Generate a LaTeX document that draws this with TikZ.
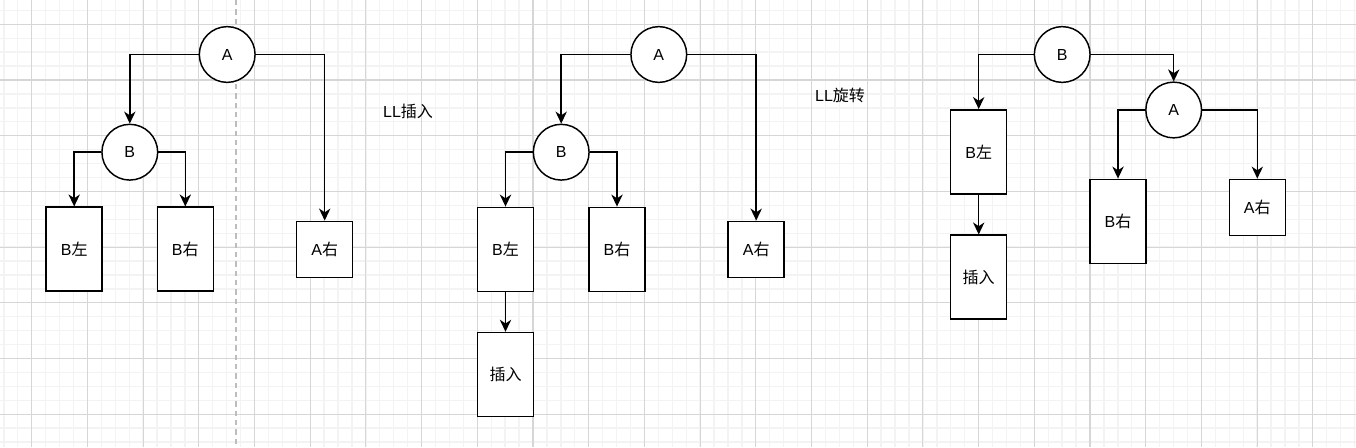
\documentclass[tikz,border=0pt]{standalone}
\usepackage{fontspec}
\setmainfont{Liberation Sans}
\newfontfamily\cjk{Noto Sans CJK SC}
\newcommand{\zh}[1]{{\cjk #1}}
\usetikzlibrary{arrows.meta}
\definecolor{minorgrid}{HTML}{F3F3F3}
\definecolor{majorgrid}{HTML}{D6D6D6}
\definecolor{sepgray}{HTML}{BDBDBD}

\begin{document}
\begin{tikzpicture}[x=0.75pt,y=-0.75pt,
    font=\fontsize{12pt}{14pt}\selectfont,
    vertex/.style={circle,draw,line width=1.1pt,fill=white,minimum size=41.8pt,inner sep=0pt},
    leaf/.style={rectangle,draw,line width=1.1pt,fill=white,minimum width=42pt,minimum height=63pt,inner sep=0pt},
    sq/.style={leaf,minimum height=42pt},
    link/.style={line width=1.1pt,-{Stealth[length=9pt,width=8.5pt,inset=2.8pt]}}]
    \useasboundingbox[fill=white] (0,0) rectangle (1356,447);
    \foreach \i in {0,...,97}
        \draw[minorgrid,line width=1pt] (3.85+13.925*\i,0) -- (3.85+13.925*\i,447);
    \foreach \j in {0,...,31}
        \draw[minorgrid,line width=1pt] (0,10.375+13.925*\j) -- (1356,10.375+13.925*\j);
    \foreach \i in {0,...,23}
        \draw[majorgrid,line width=0.8pt] (31.7+55.7*\i,0) -- (31.7+55.7*\i,447);
    \foreach \j in {0,...,7}
        \draw[majorgrid,line width=0.8pt] (0,24.3+55.7*\j) -- (1356,24.3+55.7*\j);
    \coordinate (septop) at (235.7,0);
    \coordinate (sepbot) at (235.7,447);
    \draw[sepgray,line width=1.2pt,dash pattern=on 4pt off 3pt] (septop)--(sepbot);

    \node[vertex] (A1) at (227.2,54.5) {A};
    \node[vertex] (B1) at (129.8,152.2) {B};
    \node[leaf] (Bl1) at (74.2,249.2) {B\zh{左}};
    \node[leaf] (Br1) at (185.3,249.2) {B\zh{右}};
    \node[sq] (Ar1) at (324.7,249.3) {A\zh{右}};
    \node (t1) at (408,111) {LL\zh{插入}};
    \draw[link] (A1.west) -| (B1.north);
    \draw[link] (A1.east) -| (Ar1.north);
    \draw[link] (B1.west) -| (Bl1.north);
    \draw[link] (B1.east) -| (Br1.north);

    \node[vertex] (A2) at (658.8,54.5) {A};
    \node[vertex] (B2) at (561.2,152.2) {B};
    \node[leaf] (Bl2) at (505.5,249.3) {B\zh{左}};
    \node[leaf] (Br2) at (617,249.3) {B\zh{右}};
    \node[sq] (Ar2) at (756.2,249.3) {A\zh{右}};
    \node[leaf] (In2) at (505.5,374.5) {\zh{插入}};
    \node (t2) at (840,95) {LL\zh{旋转}};
    \draw[link] (A2.west) -| (B2.north);
    \draw[link] (A2.east) -| (Ar2.north);
    \draw[link] (B2.west) -| (Bl2.north);
    \draw[link] (B2.east) -| (Br2.north);
    \draw[link] (Bl2.south) -- (In2.north);

    \node[vertex] (B3) at (1062.2,54.5) {B};
    \node[vertex] (A3) at (1173.7,110) {A};
    \node[leaf] (Bl3) at (978.7,151.8) {B\zh{左}};
    \node[leaf] (In3) at (978.7,277.2) {\zh{插入}};
    \node[leaf] (Br3) at (1118,221.3) {B\zh{右}};
    \node[sq] (Ar3) at (1257.3,207.3) {A\zh{右}};
    \draw[link] (B3.west) -| (Bl3.north);
    \draw[link] (B3.east) -| (A3.north);
    \draw[link] (A3.west) -| (Br3.north);
    \draw[link] (A3.east) -| (Ar3.north);
    \draw[link] (Bl3.south) -- (In3.north);
\end{tikzpicture}
\end{document}
